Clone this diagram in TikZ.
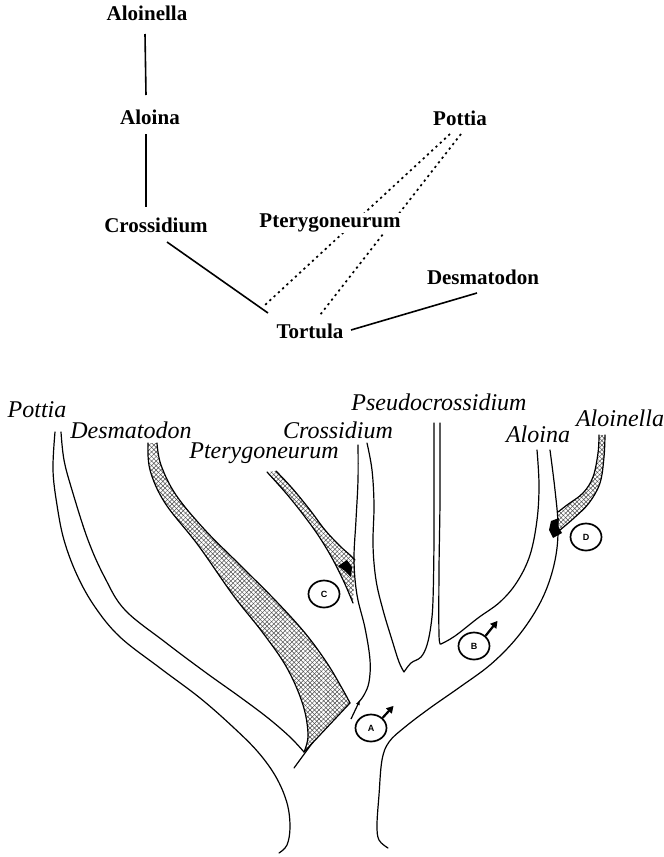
\documentclass[tikz,border=0pt]{standalone}
\usepackage{fontspec}
\setmainfont{Liberation Serif}
\setsansfont{Liberation Sans}
\usetikzlibrary{patterns.meta,arrows.meta,backgrounds,shapes.geometric}
\begin{document}
\begin{tikzpicture}[x=1pt,y=-1pt,
  toplab/.style={font=\bfseries\fontsize{21}{25}\selectfont, inner sep=1pt},
  lab/.style={font=\itshape\fontsize{24}{28}\selectfont, inner sep=0pt},
  edge/.style={line width=1.6pt},
  dotline/.style={line width=1.7pt, dash pattern=on 2.2pt off 3.6pt},
  outl/.style={line width=1.2pt, line join=round, line cap=round},
  hatch/.style={preaction={pattern={Lines[angle=45,distance=3.2pt,line width=0.5pt]}, pattern color=black!70},
                pattern={Lines[angle=-45,distance=3.2pt,line width=0.5pt]}, pattern color=black!70},
  sexc/.style={draw, ellipse, line width=1.7pt, minimum width=31pt, minimum height=27pt, inner sep=0pt,
               font=\sffamily\bfseries\fontsize{9}{10}\selectfont},
  sexarrow/.style={line width=2.2pt, -{Triangle[length=7pt,width=7.5pt]}}
]
\useasboundingbox (0,0) rectangle (664,857);

% ---------------- top tree ----------------
\node[toplab] (alnl) at (147,13) {Aloinella};
\node[toplab] (alo) at (150,117) {Aloina};
\node[toplab] (cro) at (156,225) {Crossidium};
\node[toplab] (pot) at (460,118) {Pottia};
\node[toplab, fill=white] (pte) at (330,223) {Pterygoneurum};
\node[toplab] (des) at (483,277) {Desmatodon};
\node[toplab] (tor) at (310,331) {Tortula};

\draw[edge] ([shift={(-2,21)}]alnl.center) -- ([shift={(-4,-22)}]alo.center);
\draw[edge] ([shift={(-4,17)}]alo.center) -- ([shift={(-10,-18)}]cro.center);
\draw[edge] ([shift={(11,17)}]cro.center) -- ([shift={(-42,-18)}]tor.center);
\draw[edge] ([shift={(41,-1)}]tor.center) -- ([shift={(-6,16)}]des.center);
\begin{scope}[on background layer]
\draw[dotline] ([shift={(-10,16)}]pot.center) -- ([shift={(-45,-26)}]tor.center);
\draw[dotline] ([shift={(1,16)}]pot.center) -- ([shift={(10,-16)}]tor.center);
\end{scope}

% ---------------- bottom labels ----------------
\node[lab] (bpot) at (37,410) {Pottia};
\node[lab] (bdes) at (131,430) {Desmatodon};
\node[lab] (bpte) at (264,453) {Pterygoneurum};
\node[lab] (bcro) at (338,430) {Crossidium};
\node[lab] (bpse) at (439,402) {Pseudocrossidium};
\node[lab] (balo) at (538,434) {Aloina};
\node[lab] (baln) at (620,418) {Aloinella};

% ---------------- hatched bands ----------------
% Desmatodon
\path[hatch] plot[smooth, tension=0.6] coordinates {(148,443) (150,470) (165,503) (198,545) (233,595) (263,633) (287,668) (303,705) (308,735) (304,752)}
  -- plot[smooth, tension=0.6] coordinates {(350,703) (343,690) (327,663) (305,633) (275,600) (240,565) (205,530) (176,495) (161,465) (157,443)} -- cycle;
\draw[outl] plot[smooth, tension=0.6] coordinates {(148,443) (150,470) (165,503) (198,545) (233,595) (263,633) (287,668) (303,705) (308,735) (304,752)};
\draw[outl] plot[smooth, tension=0.6] coordinates {(157,443) (161,465) (176,495) (205,530) (240,565) (275,600) (305,633) (327,663) (343,690) (350,703)};
\draw[outl] (350,703) -- (304,752);
\draw[outl] (313,742) -- (294,768);

% Pterygoneurum
\path[hatch] plot[smooth, tension=0.6] coordinates {(267,472) (285,492) (302,513) (318,535) (332,558) (344,582) (353,603)}
  -- (355,560) -- plot[smooth, tension=0.6] coordinates {(355,560) (350,555) (340,546) (325,530) (310,510) (292,488) (276,471)} -- cycle;
\draw[outl] plot[smooth, tension=0.6] coordinates {(267,472) (285,492) (302,513) (318,535) (332,558) (344,582) (353,603)};
\draw[outl] plot[smooth, tension=0.6] coordinates {(276,471) (292,488) (310,510) (325,530) (340,546) (350,555) (355,560)};
\fill (338,566) -- (347,560) -- (352,567) -- (351,577) -- (345,571) -- cycle;

% Aloinella
\path[hatch] plot[smooth, tension=0.6] coordinates {(599,435) (598,453) (593,477) (583,493) (567,505) (558,512)}
  -- (560,530) -- plot[smooth, tension=0.6] coordinates {(560,530) (574,518) (589,503) (600,483) (604,457) (605,435)} -- cycle;
\draw[outl] plot[smooth, tension=0.6] coordinates {(599,435) (598,453) (593,477) (583,493) (567,505) (558,512)};
\draw[outl] plot[smooth, tension=0.6] coordinates {(605,435) (604,457) (600,483) (589,503) (574,518) (560,530)};
\fill (551,521) -- (559,518) -- (558,526) -- (562,533) -- (553,538) -- (549,530) -- cycle;

% ---------------- tree outlines ----------------
% trunk left / Pottia left
\draw[outl] plot[smooth, tension=0.6] coordinates {(55,432) (53,470) (57,505) (64,540) (77,575) (95,607) (120,637) (160,668) (200,698) (233,727) (258,752) (276,777) (287,803) (290,827) (287,845) (279,853)};
% Pottia right
\draw[outl] plot[smooth, tension=0.6] coordinates {(61,432) (64,460) (72,490) (88,540) (105,578) (125,610) (165,642) (205,672) (240,697) (268,718) (290,737) (304,752)};
% Crossidium left
\draw[outl] plot[smooth, tension=0.6] coordinates {(358,445) (358,480) (356,520) (354,560) (357,595) (365,628) (370,660) (369,682) (364,695) (358,703)};
\draw[line width=1.2pt, -{Latex[length=5pt,width=4pt]}] (351,719) -- (360,700);
% Crossidium right + Pseudocrossidium left
\draw[outl] plot[smooth, tension=0.6] coordinates {(367,443) (372,470) (374,505) (373,545) (376,580) (383,610) (392,640) (399,662) (404,672)}
  -- plot[smooth, tension=0.6] coordinates {(404,672) (411,663) (421,657) (427,645) (431,625) (433,600) (434,540) (434,480) (434,423)};
% Pseudocrossidium right + Aloina left
\draw[outl] plot[smooth, tension=0.6] coordinates {(440,423) (440,500) (439,570) (439,635) (441,644)}
  -- plot[smooth, tension=0.6] coordinates {(441,644) (455,636) (478,618) (500,602) (517,582) (530,555) (537,520) (539,485) (537,450)};
% Aloina right / trunk right
\draw[outl] plot[smooth, tension=0.6] coordinates {(550,450) (555,490) (558,525) (556,555) (548,585) (535,612) (515,640) (490,665) (460,687) (430,708) (405,727) (389,742) (382,760) (379,795) (377,825) (379,840) (388,848)};

% ---------------- markers ----------------
\node[sexc] (ma) at (371,728) {A};
\node[sexc] (mb) at (474,646) {B};
\node[sexc] (mc) at (324,594) {C};
\node[sexc] (md) at (586,537) {D};
\draw[sexarrow] (ma.north east) -- ++(11,-12);
\draw[sexarrow] (mb.north east) -- ++(12,-15);
\end{tikzpicture}
\end{document}
